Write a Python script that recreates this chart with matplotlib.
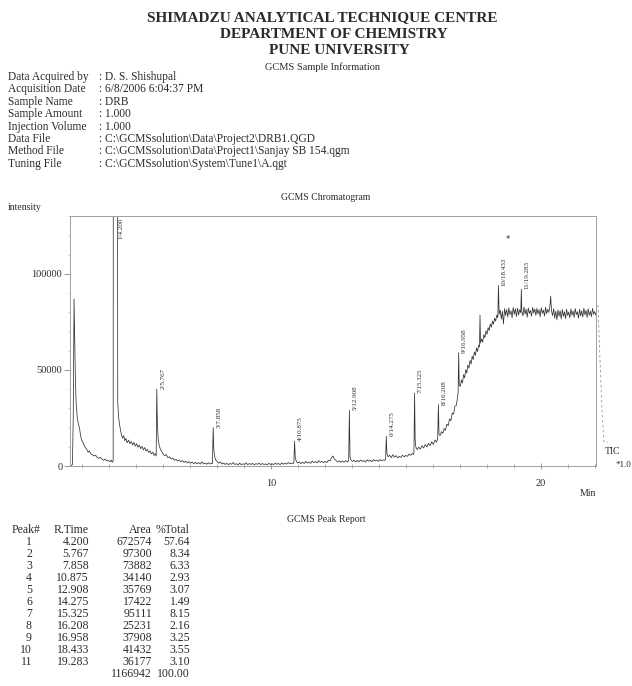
import matplotlib.pyplot as plt
import numpy as np
from matplotlib.ticker import MultipleLocator
from matplotlib.lines import Line2D

# Report header
title_lines = ["SHIMADZU ANALYTICAL TECHNIQUE CENTRE", "DEPARTMENT OF CHEMISTRY", "PUNE UNIVERSITY"]
info_labels = ["Data Acquired by", "Acquisition Date", "Sample Name", "Sample Amount",
               "Injection Volume", "Data File", "Method File", "Tuning File"]
info_values = ["D. S. Shishupal", "6/8/2006 6:04:37 PM", "DRB", "1.000", "1.000",
               r"C:\GCMSsolution\Data\Project2\DRB1.QGD",
               r"C:\GCMSsolution\Data\Project1\Sanjay SB 154.qgm",
               r"C:\GCMSsolution\System\Tune1\A.qgt"]

# Peak report
peak_no = [1, 2, 3, 4, 5, 6, 7, 8, 9, 10, 11]
peak_rt = [4.200, 5.767, 7.858, 10.875, 12.908, 14.275, 15.325, 16.208, 16.958, 18.433, 19.283]
peak_area = [672574, 97300, 73882, 34140, 35769, 17422, 95111, 25231, 37908, 41432, 36177]
peak_pct = [57.64, 8.34, 6.33, 2.93, 3.07, 1.49, 8.15, 2.16, 3.25, 3.55, 3.10]
total_area = 1166942
total_pct = 100.00

# TIC trace (time in min, intensity in thousands)
scan_time = [
    2.56, 2.60, 2.64, 2.67, 2.70, 2.72, 2.75, 2.78, 2.82, 2.86, 2.90, 2.94, 2.98, 3.02, 3.07,
    3.12, 3.17, 3.22, 3.27, 3.32, 3.38, 3.44, 3.50, 3.56, 3.62, 3.68, 3.74, 3.80, 3.86, 3.92,
    3.98, 4.04, 4.08, 4.12, 4.15, 4.16, 4.30, 4.32,
    4.35, 4.38, 4.42, 4.46, 4.50, 4.54, 4.58, 4.62, 4.67, 4.72, 4.77, 4.82, 4.87, 4.92, 4.97,
    5.02, 5.07, 5.12, 5.17, 5.22, 5.27, 5.32, 5.37, 5.42, 5.47, 5.52, 5.57, 5.62, 5.67, 5.71,
    5.745, 5.767, 5.79, 5.82, 5.86, 5.90, 5.95, 6.00, 6.06, 6.12, 6.18, 6.24, 6.30, 6.36, 6.42,
    6.48, 6.54, 6.60, 6.66, 6.72, 6.78, 6.84, 6.90, 6.96, 7.02, 7.08, 7.14, 7.20, 7.26, 7.32,
    7.38, 7.44, 7.50, 7.56, 7.62, 7.68, 7.74, 7.80, 7.83, 7.858, 7.88, 7.91, 7.95, 8.00, 8.06,
    8.12, 8.18, 8.24, 8.30, 8.36, 8.42, 8.48, 8.54, 8.60, 8.66, 8.72, 8.78, 8.84, 8.90, 8.96,
    9.02, 9.08, 9.14, 9.20, 9.26, 9.32, 9.38, 9.44, 9.50, 9.56, 9.62, 9.68, 9.74, 9.80, 9.86,
    9.92, 9.98, 10.04, 10.10, 10.16, 10.22, 10.28, 10.34, 10.40, 10.46, 10.52, 10.58, 10.64,
    10.70, 10.76, 10.82, 10.85, 10.875, 10.90, 10.94, 10.99, 11.05, 11.11, 11.17, 11.23, 11.29,
    11.35, 11.41, 11.47, 11.53, 11.59, 11.65, 11.71, 11.77, 11.83, 11.89, 11.95, 12.01, 12.07,
    12.13, 12.19, 12.25, 12.30, 12.35, 12.41, 12.47, 12.53, 12.59, 12.65, 12.71, 12.77, 12.83,
    12.88, 12.908, 12.93, 12.97, 13.02, 13.08, 13.14, 13.20, 13.26, 13.32, 13.38, 13.44, 13.50,
    13.56, 13.62, 13.68, 13.74, 13.80, 13.86, 13.92, 13.98, 14.04, 14.10, 14.16, 14.22, 14.25,
    14.275, 14.30, 14.34, 14.40, 14.46, 14.52, 14.58, 14.64, 14.70, 14.76, 14.82, 14.88, 14.94,
    15.00, 15.06, 15.12, 15.18, 15.24, 15.28, 15.30, 15.325, 15.345, 15.37, 15.42, 15.48, 15.54,
    15.60, 15.66, 15.72, 15.78, 15.84, 15.90, 15.96, 16.02, 16.08, 16.14, 16.18, 16.208, 16.23,
    16.27, 16.32, 16.37, 16.42, 16.47, 16.52, 16.57, 16.62, 16.67, 16.72, 16.77, 16.82, 16.87,
    16.92, 16.94, 16.958, 16.98, 17.02, 17.06, 17.10, 17.14, 17.18, 17.22, 17.26, 17.30, 17.34,
    17.38, 17.42, 17.46, 17.50, 17.54, 17.58, 17.62, 17.66, 17.70, 17.73, 17.75, 17.77, 17.81,
    17.85, 17.89, 17.93, 17.97, 18.01, 18.05, 18.09, 18.13, 18.17, 18.21, 18.25, 18.29, 18.33,
    18.37, 18.41, 18.433, 18.46, 18.50, 18.54, 18.58, 18.62, 18.66, 18.70, 18.74, 18.78, 18.82,
    18.86, 18.90, 18.94, 18.98, 19.02, 19.06, 19.10, 19.14, 19.18, 19.22, 19.26, 19.283, 19.30,
    19.34, 19.38, 19.42, 19.46, 19.50, 19.54, 19.58, 19.62, 19.66, 19.70, 19.74, 19.78, 19.82,
    19.86, 19.90, 19.94, 19.98, 20.02, 20.06, 20.10, 20.14, 20.18, 20.22, 20.26, 20.30, 20.34,
    20.37, 20.40, 20.44, 20.48, 20.52, 20.56, 20.60, 20.64, 20.68, 20.72, 20.76, 20.80, 20.84,
    20.88, 20.92, 20.96, 21.00, 21.04, 21.08, 21.12, 21.16, 21.20, 21.24, 21.28, 21.32, 21.36,
    21.40, 21.44, 21.48, 21.52, 21.56, 21.60, 21.64, 21.68, 21.72, 21.76, 21.80, 21.84, 21.88,
    21.92, 21.96, 22.00, 22.04, 22.08,
]
scan_tic = [
    0.2, 0.3, 0.8, 25.0, 87.0, 70.0, 45.0, 32.0, 25.0, 22.0, 20.0, 16.0, 13.5, 12.5, 11.0,
    9.5, 8.8, 7.2, 7.8, 6.4, 5.9, 5.2, 5.6, 4.4, 4.0, 4.5, 3.4, 3.0, 3.6, 2.6,
    2.9, 2.2, 3.1, 2.0, 2.6, 300.0, 300.0, 33.0,
    26.0, 22.0, 19.0, 16.0, 14.5, 15.8, 13.2, 14.4, 12.1, 13.5, 11.6, 12.8, 11.0, 12.3, 10.4,
    11.6, 9.8, 10.9, 9.1, 10.2, 8.4, 9.6, 7.8, 8.7, 7.0, 7.9, 6.3, 7.2, 5.5, 6.4,
    5.2, 40.0, 22.0, 14.0, 10.5, 8.8, 7.6, 6.2, 5.4, 5.9, 4.3, 4.8, 3.6, 4.1, 3.0,
    3.5, 2.6, 3.1, 2.2, 2.8, 1.9, 2.5, 1.6, 2.3, 1.4, 2.1, 1.2, 1.9, 1.1, 1.8,
    1.0, 2.2, 1.1, 1.6, 0.9, 1.7, 1.0, 1.5, 1.2, 20.0, 9.0, 5.0, 3.2, 2.4, 1.5,
    2.1, 1.0, 1.6, 0.8, 1.4, 0.7, 1.3, 0.9, 1.8, 0.8, 1.2, 0.6, 1.5, 0.7, 1.1,
    0.9, 1.6, 0.7, 1.3, 0.8, 1.4, 0.6, 1.2, 0.9, 1.5, 0.7, 1.3, 0.8, 1.1, 0.6,
    1.4, 0.8, 1.2, 0.7, 1.5, 0.9, 1.3, 0.7, 1.6, 0.9, 1.4, 1.0, 1.8,
    1.1, 1.6, 1.2, 2.0, 13.0, 4.5, 2.4, 1.5, 2.2, 1.2, 2.0, 1.3, 2.4,
    1.5, 2.1, 1.4, 2.6, 1.7, 2.3, 1.6, 2.8, 1.9, 2.5, 1.7, 2.4, 1.8,
    3.0, 2.6, 4.4, 5.2, 3.6, 2.9, 2.1, 2.7, 1.9, 2.6, 2.0, 2.8, 2.1,
    2.6, 29.0, 5.0, 3.0, 2.4, 3.0, 2.1, 2.9, 2.2, 3.1, 2.4, 2.8, 2.0,
    3.2, 2.5, 3.0, 2.2, 3.3, 2.6, 3.1, 2.4, 3.4, 2.7, 3.2, 2.9, 3.4,
    15.5, 6.5, 4.8, 5.6, 4.4, 5.9, 4.6, 5.4, 4.2, 5.0, 4.5, 5.6, 4.8,
    5.5, 5.0, 6.2, 5.6, 6.5, 6.0, 6.8, 38.0, 14.0, 10.0, 8.5, 9.8, 8.8,
    10.6, 9.4, 11.2, 9.9, 11.8, 10.6, 12.6, 11.2, 13.5, 12.4, 14.2, 32.0, 16.5,
    15.8, 17.9, 17.0, 19.5, 18.6, 21.8, 21.0, 24.5, 23.6, 27.6, 27.0, 31.2, 31.5,
    36.0, 38.5, 59.0, 42.0, 41.5, 44.8, 43.2, 47.6, 45.9, 50.2, 48.4, 52.6, 51.0,
    55.0, 53.1, 57.2, 55.4, 59.4, 57.6, 61.5, 59.6, 63.0, 62.0, 78.5, 64.0, 66.2,
    64.5, 68.4, 66.8, 70.4, 68.6, 72.1, 70.5, 74.0, 72.2, 75.5, 73.8, 77.0, 75.4,
    78.6, 77.2, 94.0, 79.0, 81.2, 76.5, 80.6, 74.0, 82.0, 78.4, 81.5, 77.6, 82.4,
    78.9, 80.8, 77.2, 82.6, 79.0, 81.9, 77.8, 82.2, 78.6, 81.4, 79.8, 92.0, 80.5,
    78.2, 82.8, 79.1, 81.7, 77.5, 82.3, 79.4, 81.0, 78.0, 82.6, 79.6, 81.8, 78.4,
    82.1, 79.2, 81.4, 77.7, 82.4, 79.5, 81.2, 78.1, 82.7, 79.3, 81.6, 80.0, 83.0,
    88.5, 80.8, 78.3, 81.9, 77.0, 80.6, 76.2, 81.3, 78.0, 80.9, 76.6, 81.5, 77.9,
    80.4, 76.8, 81.7, 78.4, 80.2, 77.1, 81.8, 78.6, 80.7, 77.4, 82.0, 78.9, 80.3,
    77.0, 81.6, 78.2, 80.9, 77.5, 82.2, 78.7, 81.1, 77.3, 81.9, 78.5, 80.6, 77.8,
    82.1, 79.0, 80.4, 78.6, 80.0,
]

INK = "#2b2b2b"
SERIF = "Liberation Serif"
W, H = 632, 686

fig = plt.figure(figsize=(W / 100, H / 100), dpi=100)


def px(x, y):
    return x / W, 1 - y / H


# header
for line, (cx, cy) in zip(title_lines, [(322, 18), (334, 35), (339, 51)]):
    fig.text(*px(cx, cy), line, ha="center", va="center", family=SERIF,
             fontsize=11, fontweight="bold", color=INK)
fig.text(*px(322, 67), "GCMS Sample Information", ha="center", va="center",
         family=SERIF, fontsize=7.5, color=INK)
for i, (lab, val) in enumerate(zip(info_labels, info_values)):
    y = 77 + i * 12.4
    fig.text(*px(8, y), lab, ha="left", va="center", family=SERIF, fontsize=8.3, color=INK)
    fig.text(*px(99, y), ": " + val, ha="left", va="center", family=SERIF, fontsize=8.3, color=INK)

# chromatogram
ax = fig.add_axes([70 / W, 1 - 466 / H, (596 - 70) / W, (466 - 216) / H])
tic = np.array(scan_tic) * 1000
ax.plot(scan_time, tic, color="#333333", lw=0.55)
ax.set_xlim(2.55, 22.05)
ax.set_ylim(0, 130200)

ax.xaxis.set_major_locator(MultipleLocator(10))
ax.xaxis.set_minor_locator(MultipleLocator(1))
ax.yaxis.set_major_locator(MultipleLocator(50000))
ax.yaxis.set_minor_locator(MultipleLocator(10000))
ax.tick_params(axis="x", which="major", direction="inout", length=4, width=0.6,
               pad=7, labelsize=7.5, colors="#8a8a8a", labelcolor=INK)
ax.tick_params(axis="x", which="minor", direction="inout", length=2.5, width=0.5,
               colors="#8a8a8a")
ax.tick_params(axis="y", which="major", direction="out", length=4, width=0.6,
               pad=1.5, labelsize=7.5, colors="#8a8a8a", labelcolor=INK)
ax.tick_params(axis="y", which="minor", direction="out", length=1.5, width=0.4,
               colors="#b0b0b0")
for lbl in ax.get_xticklabels() + ax.get_yticklabels():
    lbl.set_family(SERIF)
for sp in ax.spines.values():
    sp.set_color("#a0a0a0")
    sp.set_linewidth(0.7)

ytop = ax.get_ylim()[1]
for n, rt in zip(peak_no, peak_rt):
    apex = np.interp(rt, scan_time, tic)
    if apex >= ytop:
        ax.text(rt + 0.22, ytop * 0.995, f"{n}/{rt:.3f}", rotation=90, ha="center",
                va="top", fontsize=5, family=SERIF, color=INK)
    else:
        ax.text(rt + 0.22, apex, f"{n}/{rt:.3f}", rotation=90, ha="center",
                va="bottom", fontsize=5, family=SERIF, color=INK)
ax.text(18.78, 118000, "*", ha="center", va="center", fontsize=6, color=INK)

fig.text(*px(326, 198), "GCMS Chromatogram", ha="center", va="center",
         family=SERIF, fontsize=7, color=INK)
fig.text(*px(8, 208), "intensity", ha="left", va="center", family=SERIF, fontsize=7, color=INK)
fig.text(*px(596, 494), "Min", ha="right", va="center", family=SERIF, fontsize=7, color=INK)

# trace tail running past the frame
tx = np.array([598, 600, 602, 604, 608]) / W
ty = 1 - np.array([305, 360, 410, 442, 442]) / H
fig.add_artist(Line2D(tx, ty, color="#9a9a9a", lw=0.6, ls=(0, (3, 3))))
fig.text(*px(605, 452), "TIC", ha="left", va="center", family=SERIF, fontsize=7, color=INK)
fig.text(*px(631, 465), "*1.0", ha="right", va="center", family=SERIF, fontsize=6.5, color=INK)

# peak report
fig.text(*px(326, 519), "GCMS Peak Report", ha="center", va="center",
         family=SERIF, fontsize=7, color=INK)
kw = dict(va="center", family=SERIF, fontsize=8.5, color=INK)
fig.text(*px(12, 530), "Peak#", ha="left", **kw)
fig.text(*px(89, 530), "R.Time", ha="right", **kw)
fig.text(*px(152, 530), "Area", ha="right", **kw)
fig.text(*px(190, 530), "%Total", ha="right", **kw)
for i, (n, rt, a, p) in enumerate(zip(peak_no, peak_rt, peak_area, peak_pct)):
    y = 542 + i * 12
    fig.text(*px(32, y), f"{n}", ha="right", **kw)
    fig.text(*px(89, y), f"{rt:.3f}", ha="right", **kw)
    fig.text(*px(152, y), f"{a}", ha="right", **kw)
    fig.text(*px(190, y), f"{p:.2f}", ha="right", **kw)
fig.text(*px(152, 542 + 11 * 12), f"{total_area}", ha="right", **kw)
fig.text(*px(190, 542 + 11 * 12), f"{total_pct:.2f}", ha="right", **kw)

fig.savefig("out.png", dpi=100)
